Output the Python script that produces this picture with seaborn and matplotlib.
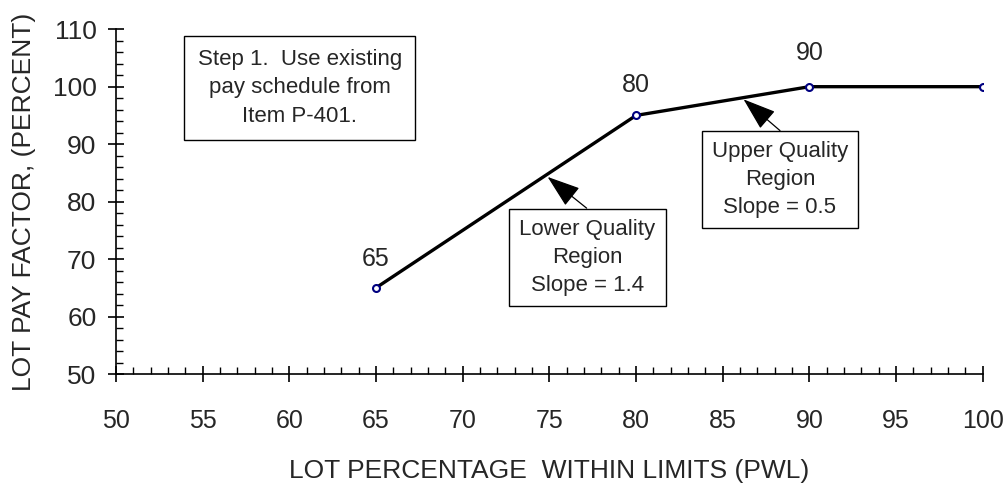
import numpy as np
import pandas as pd
import matplotlib.pyplot as plt
from matplotlib.ticker import MultipleLocator
import seaborn as sns

# data
pwl = [65, 80, 90, 100]
pay_factor = [65, 95, 100, 100]
point_labels = ['65', '80', '90']
label_offsets = [21, 22, 24]  # points above the marker

df = pd.DataFrame({'PWL': pwl, 'PF': pay_factor})

sns.set_style('ticks')
plt.rcParams['font.family'] = ['Liberation Sans', 'DejaVu Sans']

fig = plt.figure(figsize=(10.08, 4.87), dpi=100)
ax = fig.add_axes([0.115, 0.232, 0.86, 0.708])

sns.lineplot(data=df, x='PWL', y='PF', ax=ax, color='black', linewidth=2.4,
             marker='o', markersize=5, markerfacecolor='white',
             markeredgecolor='#000080', markeredgewidth=1.5)

# value labels above the first three points
for i, lab in enumerate(point_labels):
    ax.annotate(lab, (pwl[i], pay_factor[i]), xytext=(0, label_offsets[i]),
                textcoords='offset points', ha='center', va='center', fontsize=18)

ax.set_xlim(50, 100)
ax.set_ylim(50, 110)
ax.xaxis.set_major_locator(MultipleLocator(5))
ax.xaxis.set_minor_locator(MultipleLocator(1))
ax.yaxis.set_major_locator(MultipleLocator(10))
ax.yaxis.set_minor_locator(MultipleLocator(2))
ax.tick_params(which='major', direction='inout', length=12, width=1.2, color='black')
ax.tick_params(axis='x', which='major', pad=19, labelsize=18)
ax.tick_params(axis='y', which='major', pad=8, labelsize=19)
ax.tick_params(which='minor', direction='in', length=5, width=1, color='black')
for s in ['top', 'right']:
    ax.spines[s].set_visible(False)
for s in ['left', 'bottom']:
    ax.spines[s].set_linewidth(1.2)
    ax.spines[s].set_color('black')

ax.set_xlabel('LOT PERCENTAGE  WITHIN LIMITS (PWL)', fontsize=19, labelpad=19)
ax.set_ylabel('LOT PAY FACTOR, (PERCENT)', fontsize=19, labelpad=12)

step_box = dict(boxstyle='square,pad=0.6', facecolor='white', edgecolor='black', linewidth=1)
ax.text(60.6, 99.8, 'Step 1.  Use existing\npay schedule from\nItem P-401.',
        ha='center', va='center', fontsize=16, linespacing=1.45, bbox=step_box)

box = dict(boxstyle='square,pad=0.45', facecolor='white', edgecolor='black', linewidth=1)
arrow = dict(arrowstyle='-|>,head_length=1.3,head_width=0.45', color='black',
             linewidth=0.9, shrinkA=0, shrinkB=0, relpos=(0.59, 1.0))
ax.annotate('Lower Quality\nRegion\nSlope = 1.4', xy=(74.9, 84.3), xytext=(77.2, 70.3),
            ha='center', va='center', fontsize=16, linespacing=1.45, bbox=box,
            arrowprops=arrow)
ax.annotate('Upper Quality\nRegion\nSlope = 0.5', xy=(86.2, 97.8), xytext=(88.3, 83.8),
            ha='center', va='center', fontsize=16, linespacing=1.45, bbox=box,
            arrowprops=arrow)

fig.savefig('out.png', dpi=100)
